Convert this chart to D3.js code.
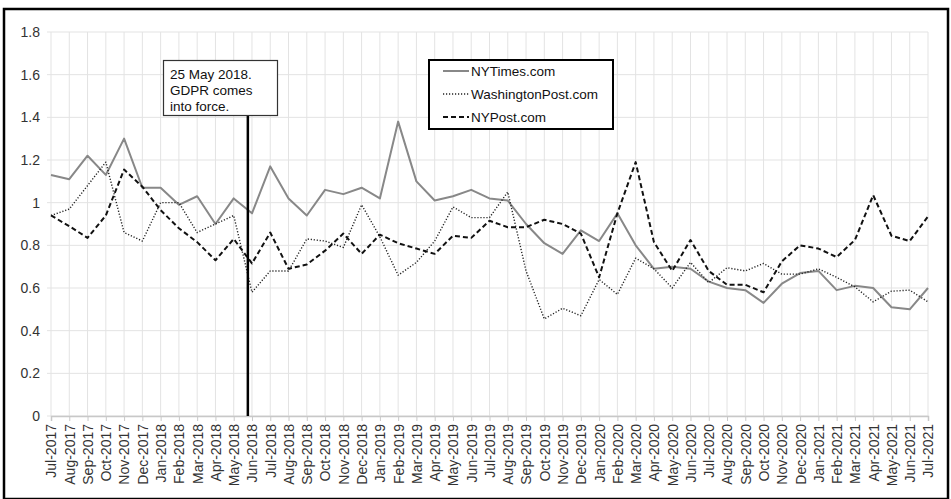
<!DOCTYPE html>
<html>
<head>
<meta charset="utf-8">
<script src="https://cdn.jsdelivr.net/npm/d3@7"></script>
<style>
  html, body { margin: 0; padding: 0; background: #fff; }
  svg { display: block; font-family: Arial, "Liberation Sans", sans-serif; }
</style>
</head>
<body>
<svg id="chart" width="951" height="499"></svg>
<script>
const months = ["Jul-2017","Aug-2017","Sep-2017","Oct-2017","Nov-2017","Dec-2017",
  "Jan-2018","Feb-2018","Mar-2018","Apr-2018","May-2018","Jun-2018","Jul-2018","Aug-2018","Sep-2018","Oct-2018","Nov-2018","Dec-2018",
  "Jan-2019","Feb-2019","Mar-2019","Apr-2019","May-2019","Jun-2019","Jul-2019","Aug-2019","Sep-2019","Oct-2019","Nov-2019","Dec-2019",
  "Jan-2020","Feb-2020","Mar-2020","Apr-2020","May-2020","Jun-2020","Jul-2020","Aug-2020","Sep-2020","Oct-2020","Nov-2020","Dec-2020",
  "Jan-2021","Feb-2021","Mar-2021","Apr-2021","May-2021","Jun-2021","Jul-2021"];

const nytimes = [1.13,1.11,1.22,1.13,1.30,1.07,
  1.07,0.99,1.03,0.90,1.02,0.95,1.17,1.02,0.94,1.06,1.04,1.07,
  1.02,1.38,1.10,1.01,1.03,1.06,1.02,1.01,0.90,0.81,0.76,0.87,
  0.82,0.95,0.80,0.69,0.70,0.69,0.63,0.60,0.59,0.53,0.62,0.67,
  0.68,0.59,0.61,0.60,0.51,0.50,0.60];

const washpost = [0.94,0.97,1.08,1.19,0.86,0.82,
  1.00,1.00,0.86,0.90,0.94,0.58,0.68,0.68,0.83,0.82,0.79,0.99,
  0.84,0.66,0.72,0.82,0.98,0.93,0.93,1.05,0.68,0.455,0.505,0.47,
  0.64,0.57,0.74,0.69,0.60,0.72,0.625,0.695,0.68,0.715,0.665,0.665,
  0.69,0.65,0.605,0.535,0.585,0.59,0.535];

const nypost = [0.94,0.89,0.835,0.94,1.155,1.075,
  0.965,0.88,0.815,0.73,0.83,0.715,0.86,0.69,0.71,0.775,0.855,0.76,
  0.85,0.81,0.785,0.76,0.845,0.835,0.915,0.885,0.885,0.92,0.90,0.855,
  0.65,0.95,1.19,0.815,0.68,0.825,0.68,0.615,0.615,0.58,0.725,0.80,
  0.785,0.745,0.825,1.035,0.845,0.82,0.935];

const yTicks = [0,0.2,0.4,0.6,0.8,1,1.2,1.4,1.6,1.8];
const seriesNames = ["NYTimes.com","WashingtonPost.com","NYPost.com"];
const annotationLines = ["25 May 2018.","GDPR comes","into force."];
const gdprMonth = "May-2018";
const gdprFraction = 24/31;

const svg = d3.select("#chart");
const x = d3.scalePoint().domain(months).range([51, 928]);
const y = d3.scaleLinear().domain([0, 1.8]).range([416, 32]);
const step = x.step();

// outer border
svg.append("rect").attr("x",4).attr("y",9).attr("width",944).attr("height",490)
  .attr("fill","none").attr("stroke","#000").attr("stroke-width",2.5);

// gridlines
const grid = svg.append("g");
grid.selectAll("line.v").data(months).join("line")
  .attr("x1", d => x(d)).attr("x2", d => x(d))
  .attr("y1", y(1.8)).attr("y2", y(0))
  .attr("stroke", "#e3e3e3").attr("stroke-width", 1);
grid.selectAll("line.h").data(yTicks).join("line")
  .attr("x1", 47).attr("x2", 928)
  .attr("y1", d => y(d)).attr("y2", d => y(d))
  .attr("stroke", "#e3e3e3").attr("stroke-width", 1);

// y axis labels
svg.append("g").selectAll("text").data(yTicks).join("text")
  .attr("x", 40).attr("y", d => y(d)).attr("dy","0.35em")
  .attr("text-anchor","end").attr("font-size", 14).attr("fill","#333")
  .text(d => d3.format("")(d));

// x axis
const xAxis = d3.axisBottom(x).tickSize(5).tickPadding(3);
const gx = svg.append("g").attr("transform", `translate(0,${y(0)})`).call(xAxis);
gx.select(".domain").attr("stroke","#c8c8c8").attr("stroke-width",1.5);
gx.selectAll(".tick line").attr("stroke","#c8c8c8");
gx.selectAll(".tick text")
  .attr("font-size", 14).attr("fill","#333")
  .attr("font-family","Arial, 'Liberation Sans', sans-serif")
  .attr("transform","rotate(-90)")
  .attr("text-anchor","end")
  .attr("x", -8).attr("y", 0).attr("dy","0.35em");

// lines
const line = d3.line().x((d,i) => x(months[i])).y(d => y(d));
const styles = [
  {data: nytimes, stroke: "#888", width: 2, dash: null},
  {data: washpost, stroke: "#222", width: 1.4, dash: "1.2,1.8"},
  {data: nypost, stroke: "#111", width: 2, dash: "5,3"}
];
styles.forEach(s => {
  svg.append("path").datum(s.data).attr("d", line)
    .attr("fill","none").attr("stroke", s.stroke).attr("stroke-width", s.width)
    .attr("stroke-dasharray", s.dash).attr("stroke-linejoin","round");
});

// GDPR line + annotation
const gx0 = x(gdprMonth) + gdprFraction * step;
svg.append("line").attr("x1", gx0).attr("x2", gx0).attr("y1", 116).attr("y2", y(0))
  .attr("stroke","#000").attr("stroke-width",2.5);
svg.append("rect").attr("x",163.5).attr("y",60.5).attr("width",114).attr("height",55)
  .attr("fill","#fff").attr("stroke","#333").attr("stroke-width",1.2);
svg.append("g").selectAll("text").data(annotationLines).join("text")
  .attr("x", 170).attr("y", (d,i) => 74 + i*16).attr("dy","0.35em")
  .attr("font-size", 13.5).attr("fill","#111").text(d => d);

// legend
svg.append("rect").attr("x",429).attr("y",60).attr("width",184).attr("height",69)
  .attr("fill","#fff").attr("stroke","#000").attr("stroke-width",2);
const lg = svg.append("g").selectAll("g").data(seriesNames).join("g")
  .attr("transform", (d,i) => `translate(0,${71 + i*23})`);
lg.append("line").attr("x1",443).attr("x2",469).attr("y1",0).attr("y2",0)
  .attr("stroke", (d,i) => styles[i].stroke)
  .attr("stroke-width", (d,i) => styles[i].width)
  .attr("stroke-dasharray", (d,i) => styles[i].dash);
lg.append("text").attr("x",471).attr("y",0).attr("dy","0.35em")
  .attr("font-size",13.5).attr("fill","#111").text(d => d);
</script>
</body>
</html>
